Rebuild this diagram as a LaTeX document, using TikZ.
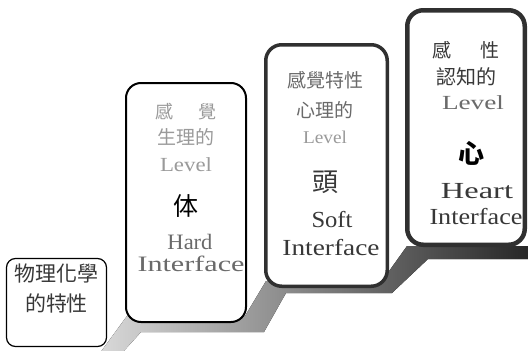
\documentclass[tikz,border=0pt]{standalone}
\usepackage{graphicx}
\usepackage{fontspec}
\setmainfont{Liberation Serif}
\newfontfamily\cjk{Noto Sans CJK TC}
\newcommand\cjtext[2]{{\cjk\fontsize{#1}{#1}\selectfont #2}}
\newcommand\lttext[3]{\resizebox{#2pt}{\height}{\fontsize{#1}{#1}\selectfont #3}}
\definecolor{tdark}{HTML}{383838}
\definecolor{tmid}{HTML}{6A6A6A}
\definecolor{tlight}{HTML}{9A9A9A}
\definecolor{edgeA}{HTML}{303030}
\begin{document}
\begin{tikzpicture}[x=1pt,y=-1pt,
  box/.style={draw, fill=white, inner sep=0pt},
  txt/.style={inner sep=0pt, anchor=center}]
\useasboundingbox (0,0) rectangle (528,351);
% shaded staircase band
\fill[left color=black!15, middle color=black!58, right color=black!85]
  (100,353) -- (127,316) -- (245,316) -- (266,281) -- (382,281) -- (407,246) -- (530,246)
  -- (530,259) -- (428,259) -- (392,293) -- (286,293) -- (264,332) -- (141,332) -- (122,353) -- cycle;
% boxes
\node[box, line width=1.2pt, rounded corners=9pt, minimum width=100pt, minimum height=88pt] (b1) at (56.5,302.5) {};
\node[box, line width=2pt, rounded corners=15pt, minimum width=120pt, minimum height=239pt] (b2) at (186,202.5) {};
\node[box, draw=edgeA, line width=3.5pt, rounded corners=16pt, minimum width=121.5pt, minimum height=241.5pt] (b3) at (326.5,165.5) {};
\node[box, draw=edgeA, line width=4.5pt, rounded corners=16pt, minimum width=117.5pt, minimum height=234.5pt] (b4) at (466,127.5) {};
% box 1 text
\node[txt, text=tdark] (t1a) at (56.5,274) {\cjtext{21}{物理化學}};
\node[txt, text=tdark] (t1b) at (56.5,303) {\cjtext{21}{的特性}};
% box 2 text
\node[txt, text=tlight] (t2a) at (186,112) {\cjtext{18}{感\hspace{26pt}覺}};
\node[txt, text=tlight] (t2b) at (186,137) {\cjtext{19}{生理的}};
\node[txt, text=tlight] (t2c) at (186,165) {\lttext{20}{52}{Level}};
\node[txt, text=black] (t2d) at (186,206) {\cjtext{25}{体}};
\node[txt, text=tmid] (t2e) at (190,242) {\lttext{22}{45}{Hard}};
\node[txt, text=tmid] (t2f) at (191,264) {\lttext{22}{107}{Interface}};
% box 3 text
\node[txt, text=tmid] (t3a) at (325,80) {\cjtext{19}{感覺特性}};
\node[txt, text=tmid] (t3b) at (325,110) {\cjtext{19}{心理的}};
\node[txt, text=tlight] (t3c) at (325,137) {\lttext{18}{44}{Level}};
\node[txt, text=tdark] (t3d) at (325,182) {\cjtext{26}{頭}};
\node[txt, text=tdark] (t3e) at (332,220) {\lttext{23}{41}{Soft}};
\node[txt, text=tdark] (t3f) at (331,248) {\lttext{23}{97}{Interface}};
% box 4 text
\node[txt, text=tdark] (t4a) at (466,50) {\cjtext{19}{感\hspace{30pt}性}};
\node[txt, text=tdark] (t4b) at (466,77) {\cjtext{20}{認知的}};
\node[txt, text=tmid] (t4c) at (473,103) {\lttext{20}{62}{Level}};
\node[txt, text=black] (t4d) at (471,153) {\cjtext{26}{\bfseries 心}};
\node[txt, text=tdark] (t4e) at (477,191) {\lttext{23}{72}{Heart}};
\node[txt, text=tdark] (t4f) at (476,217) {\lttext{23}{93}{Interface}};
\end{tikzpicture}
\end{document}
